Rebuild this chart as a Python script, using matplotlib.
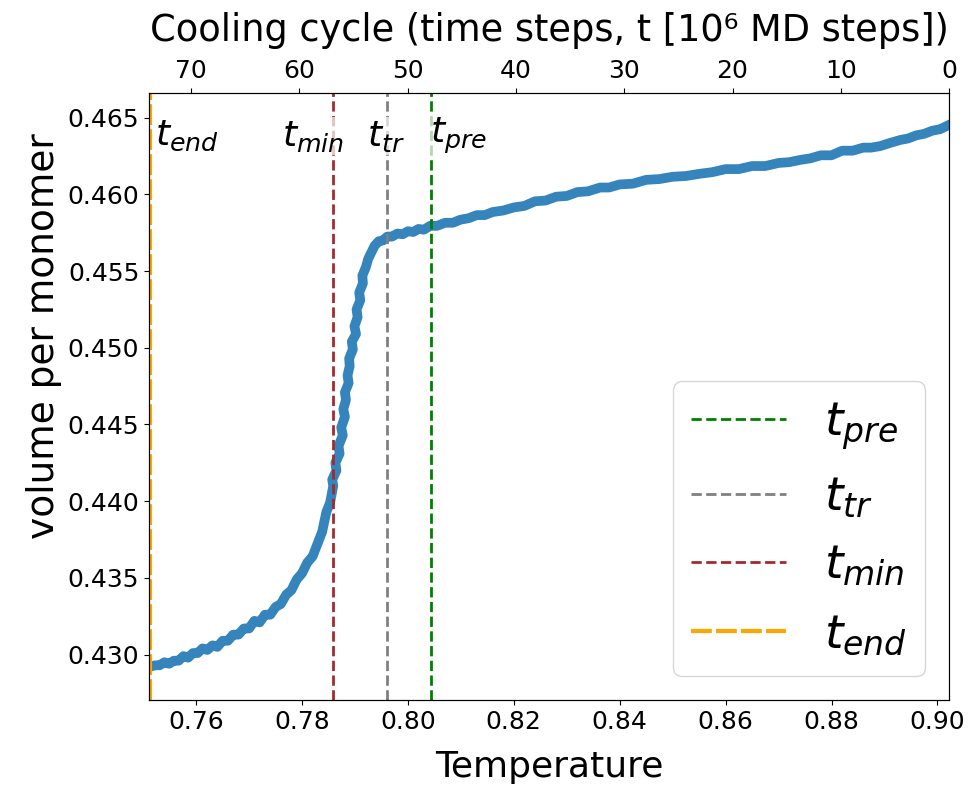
import numpy as np
import matplotlib
matplotlib.use("Agg")
import matplotlib.pyplot as plt

# volumen por monomero a lo largo del enfriamiento (T baja de 0.902 a 0.751)
temperatura = [
    0.7513, 0.7522, 0.7531, 0.7540, 0.7549, 0.7558, 0.7567, 0.7576, 0.7585, 0.7594,
    0.7603, 0.7612, 0.7621, 0.7631, 0.7640, 0.7650, 0.7660, 0.7670, 0.7680, 0.7690,
    0.7700, 0.7710, 0.7720, 0.7730, 0.7740, 0.7750, 0.7760, 0.7770, 0.7780, 0.7790,
    0.7800, 0.7810, 0.7820, 0.7830, 0.7838, 0.7846, 0.7853,
    0.7859, 0.7857, 0.7865, 0.7863, 0.7871, 0.7869, 0.7877, 0.7874, 0.7881, 0.7878,
    0.7883, 0.7881, 0.7888, 0.7886, 0.7890, 0.7889, 0.7896, 0.7894, 0.7902, 0.7899,
    0.7905, 0.7903, 0.7910, 0.7908, 0.7915, 0.7914, 0.7921, 0.7925, 0.7932, 0.7937,
    0.7945, 0.7953, 0.7961, 0.7970, 0.7980, 0.7990, 0.8000, 0.8010, 0.8020, 0.8030,
    0.8042, 0.8055, 0.8070, 0.8085, 0.8099, 0.8115, 0.8130, 0.8145, 0.8160, 0.8180,
    0.8200, 0.8220, 0.8240, 0.8260, 0.8280, 0.8300, 0.8320, 0.8340, 0.8363, 0.8380,
    0.8400, 0.8425, 0.8450, 0.8475, 0.8500, 0.8525, 0.8552, 0.8575, 0.8600, 0.8625,
    0.8650, 0.8675, 0.8700, 0.8720, 0.8741, 0.8760, 0.8780, 0.8800, 0.8820, 0.8840,
    0.8860, 0.8875, 0.8892, 0.8910, 0.8930, 0.8945, 0.8960, 0.8975, 0.8990, 0.9005,
    0.9020,
]
volumen = [
    0.42920, 0.42930, 0.42930, 0.42950, 0.42940, 0.42960, 0.42960, 0.42990, 0.42980, 0.43010,
    0.43010, 0.43040, 0.43030, 0.43060, 0.43050, 0.43090, 0.43090, 0.43130, 0.43130, 0.43170,
    0.43170, 0.43220, 0.43210, 0.43260, 0.43260, 0.43310, 0.43330, 0.43390, 0.43420, 0.43490,
    0.43530, 0.43600, 0.43640, 0.43730, 0.43800, 0.43930, 0.43990,
    0.44100, 0.44140, 0.44200, 0.44250, 0.44310, 0.44360, 0.44430, 0.44480, 0.44550, 0.44600,
    0.44660, 0.44710, 0.44770, 0.44820, 0.44880, 0.44930, 0.44990, 0.45040, 0.45090, 0.45140,
    0.45200, 0.45250, 0.45310, 0.45360, 0.45420, 0.45470, 0.45530, 0.45580, 0.45630, 0.45665,
    0.45695, 0.45700, 0.45725, 0.45725, 0.45745, 0.45740, 0.45760, 0.45755, 0.45775, 0.45770,
    0.45795, 0.45795, 0.45815, 0.45815, 0.45835, 0.45845, 0.45865, 0.45865, 0.45885, 0.45895,
    0.45915, 0.45925, 0.45955, 0.45960, 0.45985, 0.45990, 0.46015, 0.46020, 0.46045, 0.46045,
    0.46065, 0.46070, 0.46095, 0.46100, 0.46115, 0.46120, 0.46135, 0.46145, 0.46165, 0.46165,
    0.46185, 0.46185, 0.46205, 0.46210, 0.46225, 0.46235, 0.46255, 0.46255, 0.46285, 0.46285,
    0.46305, 0.46305, 0.46315, 0.46335, 0.46355, 0.46365, 0.46385, 0.46395, 0.46415, 0.46425,
    0.46450,
]

# tiempos caracteristicos marcados sobre la curva
nombres = ["pre", "tr", "min", "end"]
T_marcas = [0.8043, 0.7960, 0.7858, 0.7513]
colores = ["green", "gray", "brown", "orange"]
# posicion de las etiquetas dentro de la grafica
T_etiquetas = [0.8042, 0.7923, 0.7762, 0.7523]
V_etiquetas = 0.4638

pasos_totales = 73.9   # 10^6 pasos de MD en todo el ciclo

fig = plt.figure(figsize=(9.7, 7.93), dpi=100)
ax = fig.add_subplot(111)
fig.subplots_adjust(left=0.1536, right=0.9784, bottom=0.1173, top=0.8827)

ax.plot(temperatura, volumen, color="tab:blue", alpha=0.9, lw=7)

for nombre, Tm, c in zip(nombres, T_marcas, colores):
    if nombre == "end":
        ax.axvline(Tm, color=c, lw=3, ls=(0, (5, 1)), label=r"$t_{%s}$" % nombre)
    else:
        ax.axvline(Tm, color=c, lw=2, ls="--", label=r"$t_{%s}$" % nombre)

for nombre, Tx in zip(nombres, T_etiquetas):
    ax.text(Tx, V_etiquetas, r"$t_{%s}$" % nombre, fontsize=26, ha="left", va="center",
            bbox=dict(facecolor="white", edgecolor="none", alpha=0.7, pad=1))

ax.set_xlim(0.7511, 0.9022)
ax.set_ylim(0.42704, 0.46661)
ax.set_xticks([0.76, 0.78, 0.80, 0.82, 0.84, 0.86, 0.88, 0.90])
ax.set_yticks([0.430, 0.435, 0.440, 0.445, 0.450, 0.455, 0.460, 0.465])
ax.tick_params(labelsize=18)
ax.set_xlabel("Temperature", fontsize=26, labelpad=12)
ax.set_ylabel("volume per monomer", fontsize=27, y=0.6)

ax.legend(loc="lower right", fontsize=34)

# eje superior con el tiempo del ciclo de enfriamiento
ax2 = ax.twiny()
ax2.set_xlim(pasos_totales, 0)
ax2.set_xticks([70, 60, 50, 40, 30, 20, 10, 0])
ax2.tick_params(labelsize=18)
ax2.set_xlabel("Cooling cycle (time steps, t [10⁶ MD steps])", fontsize=26.5, labelpad=13)

plt.savefig("out.png", dpi=100)
plt.close()
